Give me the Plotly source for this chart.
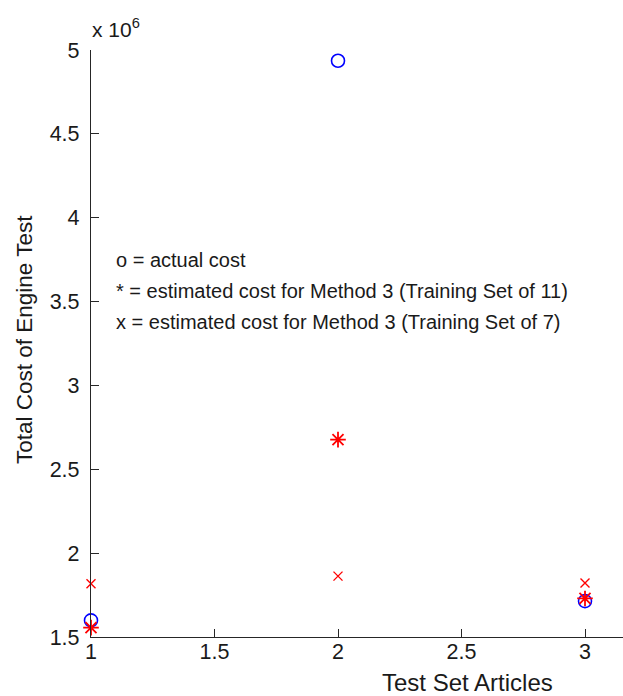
import plotly.graph_objects as go

# Data (values in units of 10^6)
test_articles = [1, 2, 3]
actual_cost = [1.599, 4.936, 1.714]
est_cost_train11 = [1.556, 2.677, 1.730]
est_cost_train7 = [1.818, 1.863, 1.822]

y_ticks = [1.5, 2, 2.5, 3, 3.5, 4, 4.5, 5]
y_ticklabels = ["1.5", "2", "2.5", "3", "3.5", "4", "4.5", "5"]
x_ticks = [1, 1.5, 2, 2.5, 3]
x_ticklabels = ["1", "1.5", "2", "2.5", "3"]

legend_lines = [
    "o = actual cost",
    "* = estimated cost for Method 3 (Training Set of 11)",
    "x = estimated cost for Method 3 (Training Set of 7)",
]

FONT = "Liberation Sans, Arial, sans-serif"
AX = "#262626"
TXT = "#1a1a1a"

fig = go.Figure()
fig.add_trace(go.Scatter(
    x=test_articles, y=actual_cost, mode="markers", cliponaxis=False,
    marker=dict(symbol="circle-open", size=13, color="#0000ff",
                line=dict(width=1.6, color="#0000ff")),
    hoverinfo="skip"))
fig.add_trace(go.Scatter(
    x=test_articles, y=est_cost_train11, mode="markers", cliponaxis=False,
    marker=dict(symbol="asterisk-open", size=13, color="#ff0000",
                line=dict(width=1.8, color="#ff0000")),
    hoverinfo="skip"))
fig.add_trace(go.Scatter(
    x=test_articles, y=est_cost_train7, mode="markers", cliponaxis=False,
    marker=dict(symbol="x-thin-open", size=9, color="#ff0000",
                line=dict(width=1.4, color="#ff0000")),
    hoverinfo="skip"))

L, T, B = 91, 50, 59
W, H = 623, 696
PW, PH = W - L, H - T - B

fig.update_layout(
    width=W, height=H,
    margin=dict(l=L, r=0, t=T, b=B, pad=0),
    paper_bgcolor="white", plot_bgcolor="white",
    showlegend=False,
    font=dict(family=FONT, size=20, color=TXT),
    xaxis=dict(range=[1, 1 + PW / 247.0], showgrid=False, zeroline=False,
               showline=True, linecolor=AX, linewidth=1.3, mirror=False,
               ticks="inside", ticklen=8, tickwidth=1.3, tickcolor=AX,
               tickvals=x_ticks, ticktext=x_ticklabels, ticklabelstandoff=-5,
               tickfont=dict(size=21.5, family=FONT, color=TXT)),
    yaxis=dict(range=[1.5, 5], showgrid=False, zeroline=False,
               showline=True, linecolor=AX, linewidth=1.3, mirror=False,
               ticks="inside", ticklen=8, tickwidth=1.3, tickcolor=AX,
               tickvals=y_ticks, ticktext=y_ticklabels, ticklabelstandoff=6,
               tickfont=dict(size=21.5, family=FONT, color=TXT)),
)

annotations = []
# exponent label
annotations.append(dict(xref="paper", yref="paper", x=0, y=1, xanchor="left",
                        yanchor="bottom", yshift=7, xshift=-1,
                        text="x 10<sup>6</sup>", showarrow=False,
                        font=dict(size=21, family=FONT, color=TXT)))
# text legend lines
for i, line in enumerate(legend_lines):
    annotations.append(dict(xref="paper", yref="paper", x=(114 - L) / PW,
                            y=1 - (260 + 31 * i - T) / PH,
                            xanchor="left", yanchor="middle",
                            text=line, showarrow=False,
                            font=dict(size=20, family=FONT, color=TXT)))
# axis titles
annotations.append(dict(xref="paper", yref="paper", x=(467 - L) / PW,
                        y=-(682 - (H - B)) / PH,
                        xanchor="center", yanchor="middle",
                        text="Test Set Articles", showarrow=False,
                        font=dict(size=24, family=FONT, color=TXT)))
annotations.append(dict(xref="paper", yref="paper", x=-(L - 25) / PW,
                        y=1 - (340 - T) / PH,
                        xanchor="center", yanchor="middle", textangle=-90,
                        text="Total Cost of Engine Test", showarrow=False,
                        font=dict(size=22.5, family=FONT, color=TXT)))
fig.update_layout(annotations=annotations)

fig.write_html("out.html", config={"displayModeBar": False},
               post_script="document.body.style.margin='0';document.body.style.overflow='hidden';")
